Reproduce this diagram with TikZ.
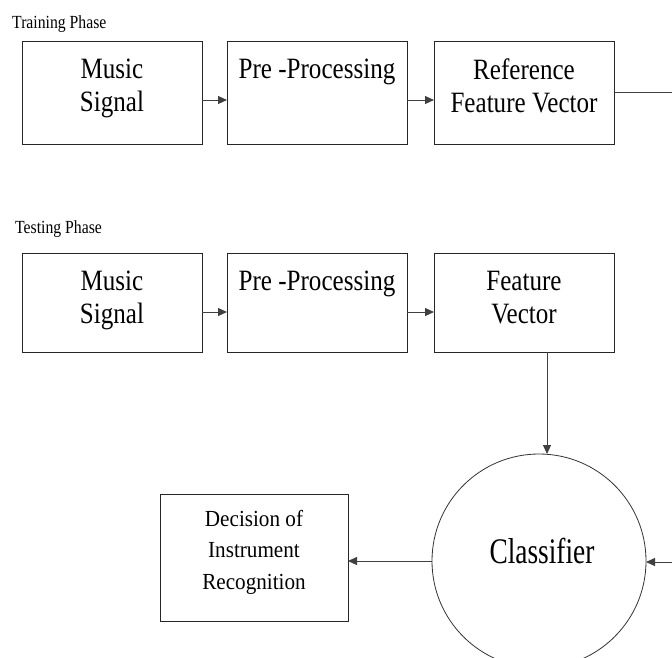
\documentclass[tikz,border=0pt]{standalone}
\usepackage{fontspec}
\setmainfont{Liberation Serif}
\newfontfamily\condfont{Liberation Serif}[FakeStretch=0.85]
\newfontfamily\decfont{Liberation Serif}[FakeStretch=0.92]
\newfontfamily\clsfont{Liberation Serif}[FakeStretch=0.76]
\usetikzlibrary{arrows.meta}

\begin{document}
\begin{tikzpicture}[x=1pt,y=-1pt,
  box/.style={draw=black!85, line width=1pt, rectangle, inner sep=0pt, outer sep=0pt},
  lbl/.style={inner sep=0pt, anchor=north, align=center,
    font=\condfont\fontsize{29.5}{32.5}\selectfont},
  declbl/.style={inner sep=0pt, anchor=north, align=center,
    font=\decfont\fontsize{23}{31.5}\selectfont},
  phase/.style={inner sep=0pt, anchor=base west,
    font=\condfont\fontsize{18.5}{20}\selectfont},
  arr/.style={draw=black!75, line width=0.9pt, -{Triangle[length=9pt,width=8pt]}},
  link/.style={draw=black!75, line width=0.9pt}]

\useasboundingbox (0,0) rectangle (672,657);

% Training phase
\node[phase] (trainlbl) at (12,28) {Training Phase};
\node[box, minimum width=180pt, minimum height=103pt] (tm) at (112,92.5) {};
\node[box, minimum width=180pt, minimum height=103pt] (tp) at (317,92.5) {};
\node[box, minimum width=180pt, minimum height=103pt] (tr) at (524,92.5) {};
\node[lbl] (tmt) at (112,59) {Music\\Signal};
\node[lbl] (tpt) at (317,59) {Pre -Processing};
\node[lbl] (trt) at (524,59) {Reference\\Feature Vector};

% Testing phase
\node[phase] (testlbl) at (15,233) {Testing Phase};
\node[box, minimum width=180pt, minimum height=99pt] (em) at (112,302.5) {};
\node[box, minimum width=180pt, minimum height=99pt] (ep) at (317,302.5) {};
\node[box, minimum width=180pt, minimum height=99pt] (ef) at (524,302.5) {};
\node[lbl] (emt) at (112,271) {Music\\Signal};
\node[lbl] (ept) at (317,271) {Pre -Processing};
\node[lbl] (eft) at (524,271) {Feature\\Vector};

% Classification
\node[circle, draw=black!80, line width=0.8pt, minimum size=214pt, inner sep=0pt, outer sep=0pt] (cls) at (539,561) {};
\node[inner sep=0pt, anchor=base, font=\clsfont\fontsize{36}{40}\selectfont] (clst) at (542,563) {Classifier};
\node[box, minimum width=188pt, minimum height=127pt] (dec) at (254,557.5) {};
\node[declbl] (dect) at (254,510) {Decision of\\Instrument\\Recognition};

% Connectors
\coordinate (ya) at (0,100);
\coordinate (yb) at (0,312);
\draw[arr] (tm.east |- ya) -- (tp.west |- ya);
\draw[arr] (tp.east |- ya) -- (tr.west |- ya);
\draw[arr] (em.east |- yb) -- (ep.west |- yb);
\draw[arr] (ep.east |- yb) -- (ef.west |- yb);

\coordinate (tout) at (672,92);
\draw[link] (tr.east |- tout) -- (tout);

\coordinate (vx) at (547,0);
\draw[arr] (vx |- ef.south) -- (vx |- cls.north);

\coordinate (cin) at (672,562);
\draw[arr] (cin) -- (cls.east |- cin);

\draw[arr] (cls.west) -- (dec.east |- cls.west);
\end{tikzpicture}
\end{document}
